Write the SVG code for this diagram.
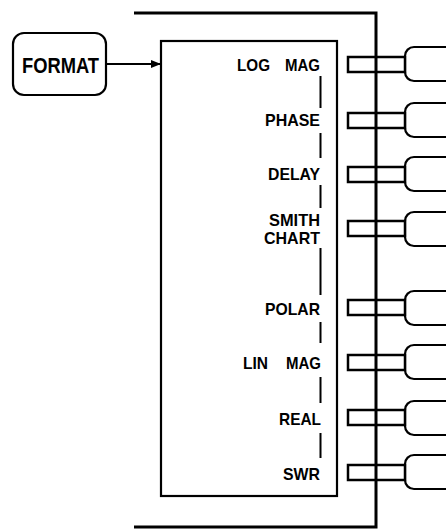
<svg xmlns="http://www.w3.org/2000/svg" width="446" height="529" viewBox="0 0 446 529">
<style>
.lbl{font-family:"Liberation Sans",Arial,sans-serif;font-weight:bold;font-size:17px;fill:#000}
.big{font-family:"Liberation Sans",Arial,sans-serif;font-weight:bold;font-size:22px;fill:#000}
.box{fill:#fff;stroke:#000;stroke-width:2.2}
.stub{fill:#fff;stroke:#000;stroke-width:2.5}
.sep{stroke:#000;stroke-width:2}
.bus{fill:none;stroke:#000;stroke-width:3}
</style>
<defs>
<marker id="ah" markerWidth="10" markerHeight="8" refX="9" refY="4" orient="auto" markerUnits="userSpaceOnUse">
<path d="M0,0 L10,4 L0,8 Z" fill="#000"/>
</marker>
</defs>
<rect width="446" height="529" fill="#fff"/>
<g id="format">
<rect class="box" x="13" y="33" width="93" height="62" rx="11"/>
<text class="big" x="22" y="73" textLength="77" lengthAdjust="spacingAndGlyphs">FORMAT</text>
</g>
<g id="main">
<rect class="box" x="161" y="41" width="176" height="455"/>
<text class="lbl" x="237" y="71" textLength="33" lengthAdjust="spacingAndGlyphs">LOG</text>
<text class="lbl" x="285" y="71" textLength="35" lengthAdjust="spacingAndGlyphs">MAG</text>
<text class="lbl" x="265" y="126" textLength="55" lengthAdjust="spacingAndGlyphs">PHASE</text>
<text class="lbl" x="268" y="180" textLength="52" lengthAdjust="spacingAndGlyphs">DELAY</text>
<text class="lbl" x="269" y="226" textLength="51" lengthAdjust="spacingAndGlyphs">SMITH</text>
<text class="lbl" x="264" y="244" textLength="56" lengthAdjust="spacingAndGlyphs">CHART</text>
<text class="lbl" x="265" y="315" textLength="55" lengthAdjust="spacingAndGlyphs">POLAR</text>
<text class="lbl" x="243" y="369" textLength="25" lengthAdjust="spacingAndGlyphs">LIN</text>
<text class="lbl" x="286" y="369" textLength="35" lengthAdjust="spacingAndGlyphs">MAG</text>
<text class="lbl" x="279" y="425" textLength="42" lengthAdjust="spacingAndGlyphs">REAL</text>
<text class="lbl" x="283" y="480" textLength="37" lengthAdjust="spacingAndGlyphs">SWR</text>
<path class="sep" d="M320.5,76V108M320.5,133V158M320.5,185V208M320.5,248V295M320.5,322V343M320.5,377V403M320.5,433V458"/>
</g>
<g id="out-logmag"><rect class="box" x="405" y="47" width="60" height="34" rx="9"/><rect class="stub" x="348" y="57" width="57" height="15"/></g>
<g id="out-phase"><rect class="box" x="405" y="103" width="60" height="34" rx="9"/><rect class="stub" x="348" y="113" width="57" height="15"/></g>
<g id="out-delay"><rect class="box" x="405" y="157" width="60" height="34" rx="9"/><rect class="stub" x="348" y="167" width="57" height="15"/></g>
<g id="out-smith"><rect class="box" x="405" y="212" width="60" height="34" rx="9"/><rect class="stub" x="348" y="221" width="57" height="15"/></g>
<g id="out-polar"><rect class="box" x="405" y="291" width="60" height="34" rx="9"/><rect class="stub" x="348" y="300" width="57" height="15"/></g>
<g id="out-linmag"><rect class="box" x="405" y="345" width="60" height="34" rx="9"/><rect class="stub" x="348" y="355" width="57" height="15"/></g>
<g id="out-real"><rect class="box" x="405" y="401" width="60" height="34" rx="9"/><rect class="stub" x="348" y="410" width="57" height="15"/></g>
<g id="out-swr"><rect class="box" x="405" y="455" width="60" height="34" rx="9"/><rect class="stub" x="348" y="465" width="57" height="15"/></g>
<g id="connectors">
<path d="M106,64H160" stroke="#000" stroke-width="2.2" marker-end="url(#ah)"/>
<path class="bus" d="M134,13H376V527H134"/>
</g>
</svg>
